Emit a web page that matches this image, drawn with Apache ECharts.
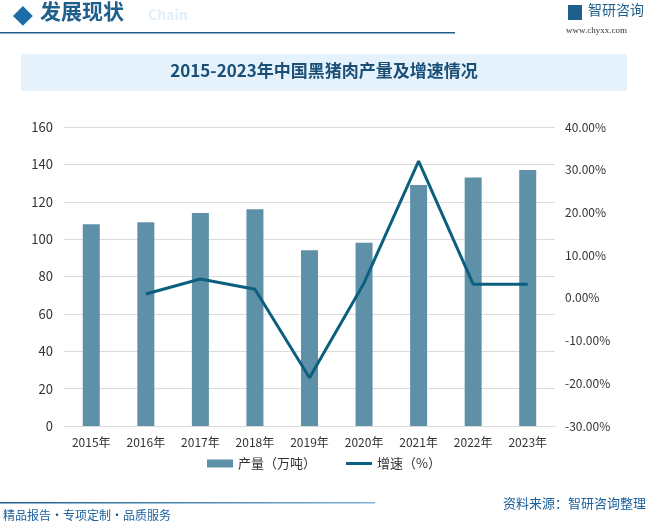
<!DOCTYPE html>
<html>
<head>
<meta charset="utf-8">
<script src="https://cdn.jsdelivr.net/npm/echarts@6/dist/echarts.min.js"></script>
<style>
  html, body { margin: 0; padding: 0; background: #fff; }
  #chart { width: 648px; height: 525px; }
</style>
</head>
<body>
<div id="chart"></div>
<script>
const years = ['2015年', '2016年', '2017年', '2018年', '2019年', '2020年', '2021年', '2022年', '2023年']
const output = [108, 109, 114, 116, 94, 98, 129, 133, 137]
const growth = [null, 0.9, 4.4, 2.0, -18.7, 3.5, 32.0, 3.2, 3.2]

const font = '"Noto Sans CJK SC", sans-serif'
const chart = echarts.init(document.getElementById('chart'), null, { renderer: 'canvas' })

const option = {
  animation: false,
  textStyle: { fontFamily: font },
  graphic: [
    // header
    { type: 'rect', left: 13, top: 6, shape: { width: 14, height: 14 }, rotation: Math.PI / 4, originX: 20, originY: 13,
      style: { fill: '#1b6ea5' } },
    { type: 'text', left: 40, top: 1, style: { text: '发展现状', font: 'bold 21px ' + font, fill: '#1f5f8b' } },
    { type: 'text', left: 148, top: 8, style: { text: 'Chain', font: 'bold 14px ' + font, fill: '#e3eff8' } },
    { type: 'rect', left: 0, top: 32, shape: { width: 455, height: 1.5 }, style: { fill: '#1f5f8b' } },
    { type: 'rect', left: 568, top: 5, shape: { width: 14, height: 15 }, style: { fill: '#1f5f8b' } },
    { type: 'text', left: 588, top: 3, style: { text: '智研咨询', font: '14px ' + font, fill: '#1f5f8b' } },
    { type: 'text', left: 566, top: 26, style: { text: 'www.chyxx.com', font: '9px serif', fill: '#333' } },
    // title band
    { type: 'rect', left: 21, top: 54, shape: { width: 606, height: 37 }, style: { fill: '#e5f2fb' } },
    { type: 'text', left: 'center', top: 62, style: { text: '2015-2023年中国黑猪肉产量及增速情况', font: 'bold 17px ' + font, fill: '#1a4f78' } },
    // footer
    { type: 'rect', left: 0, top: 502, shape: { width: 375, height: 1.5 },
      style: { fill: new echarts.graphic.LinearGradient(0, 0, 1, 0, [{ offset: 0, color: '#1f5f8b' }, { offset: 1, color: '#7fb0d6' }]) } },
    { type: 'text', right: 2, top: 497, style: { text: '资料来源：智研咨询整理', font: '13px ' + font, fill: '#1a5f9e' } },
    { type: 'text', left: 3, top: 509, style: { text: '精品报告・专项定制・品质服务', font: '12px ' + font, fill: '#1a5f9e' } }
  ],
  grid: { left: 64, right: 93, top: 127, bottom: 99 },
  legend: {
    bottom: 50,
    left: 'center',
    itemGap: 30,
    itemWidth: 26,
    itemHeight: 8,
    textStyle: { fontSize: 13, color: '#333', fontFamily: font },
    data: [
      { name: '产量（万吨）', icon: 'rect' },
      { name: '增速（%）', icon: 'path://M0,0H26V3H0Z', itemStyle: { color: '#0d5f80' } }
    ]
  },
  xAxis: {
    type: 'category',
    data: years,
    axisLine: { lineStyle: { color: '#d9d9d9' } },
    axisTick: { show: false },
    axisLabel: { color: '#333', fontSize: 12, margin: 10 }
  },
  yAxis: [
    {
      type: 'value', min: 0, max: 160, interval: 20,
      axisLabel: { color: '#333', fontSize: 13, margin: 11 },
      splitLine: { lineStyle: { color: '#dcdcdc' } }
    },
    {
      type: 'value', min: -30, max: 40, interval: 10,
      axisLabel: { color: '#333', fontSize: 12, margin: 10, formatter: v => v.toFixed(2) + '%' },
      splitLine: { show: false }
    }
  ],
  series: [
    {
      name: '产量（万吨）',
      type: 'bar',
      data: output,
      barWidth: 17,
      itemStyle: { color: '#5e91a8' }
    },
    {
      name: '增速（%）',
      type: 'line',
      yAxisIndex: 1,
      data: growth,
      symbol: 'none',
      lineStyle: { color: '#0d5f80', width: 3 },
      itemStyle: { color: '#0d5f80' }
    }
  ]
}

chart.setOption(option)
</script>
</body>
</html>
